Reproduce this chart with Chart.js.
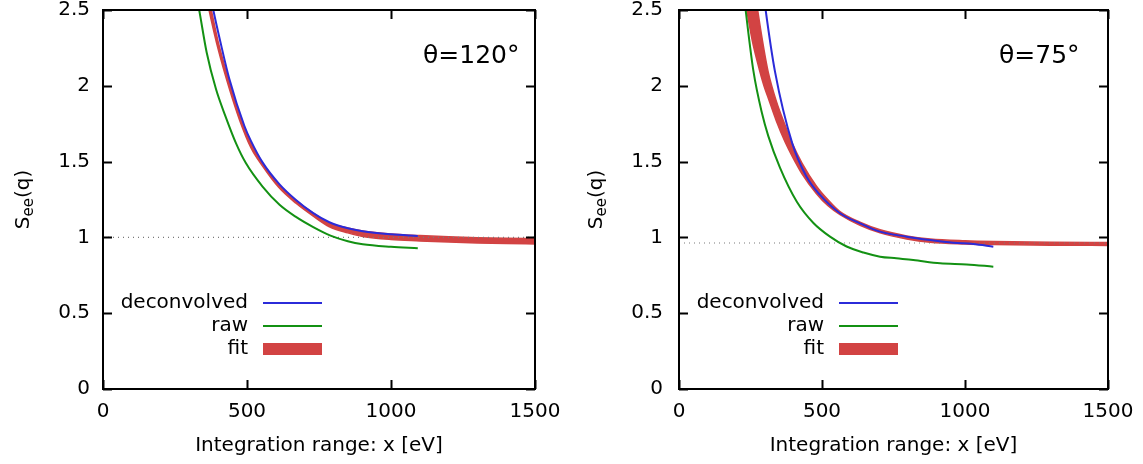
<!DOCTYPE html>
<html>
<head>
<meta charset="utf-8">
<script src="https://cdn.jsdelivr.net/npm/chart.js@4.4.0/dist/chart.umd.min.js"></script>
<style>
  body { margin: 0; background: #fff; }
  #wrap { position: relative; width: 1143px; height: 464px; }
  #c120 { position: absolute; left: 0; top: 0; }
  #c75 { position: absolute; left: 576px; top: 0; }
</style>
</head>
<body>
<div id="wrap">
  <canvas id="c120" width="576" height="464"></canvas>
  <canvas id="c75" width="567" height="464"></canvas>
</div>
<script>
const xTicks = [0, 500, 1000, 1500];
const yTicks = [0, 0.5, 1, 1.5, 2, 2.5];
const legendLabels = ['deconvolved', 'raw', 'fit'];

// theta = 120 deg
const dec120X = [370, 383, 410, 438, 491, 514, 554, 613, 670, 730, 786, 850, 902, 1000, 1093];
const dec120Y = [2.63, 2.5, 2.27, 2.05, 1.735, 1.635, 1.495, 1.35, 1.247, 1.16, 1.10, 1.06, 1.04, 1.02, 1.009];
const raw120X = [322, 334, 360, 392, 425, 462, 496, 554, 613, 670, 730, 790, 850, 902, 1000, 1093];
const raw120Y = [2.62, 2.5, 2.22, 1.98, 1.80, 1.62, 1.49, 1.335, 1.215, 1.135, 1.068, 1.012, 0.975, 0.955, 0.938, 0.928];
const fit120X = [355, 375, 400, 438, 475, 514, 554, 610, 670, 730, 786, 850, 902, 1000, 1100, 1200, 1300, 1400, 1500];
const fit120Lo = [2.62, 2.44, 2.24, 1.985, 1.77, 1.59, 1.47, 1.33, 1.225, 1.14, 1.07, 1.03, 1.006, 0.986, 0.977, 0.969, 0.963, 0.959, 0.957];
const fit120Hi = [2.69, 2.51, 2.29, 2.03, 1.80, 1.625, 1.49, 1.348, 1.245, 1.16, 1.095, 1.062, 1.042, 1.022, 1.012, 1.004, 0.998, 0.994, 0.992];
const ref120 = 1.0;

// theta = 75 deg
const dec75X = [290, 303, 336, 396, 446, 493, 563, 633, 703, 796, 878, 959, 1029, 1099];
const dec75Y = [2.7, 2.5, 2.09, 1.62, 1.40, 1.28, 1.159, 1.093, 1.038, 1.005, 0.983, 0.965, 0.956, 0.939];
const raw75X = [222, 233, 260, 290, 312, 353, 412, 470, 528, 586, 645, 703, 760, 819, 913, 1006, 1099];
const raw75Y = [2.68, 2.5, 2.1, 1.82, 1.67, 1.46, 1.235, 1.095, 1.005, 0.94, 0.90, 0.873, 0.862, 0.851, 0.829, 0.822, 0.807];
const fit75X = [222, 237, 256, 275, 297, 312, 340, 371, 396, 430, 480, 520, 563, 633, 703, 796, 878, 1000, 1100, 1300, 1500];
const fit75Lo = [2.68, 2.5, 2.3, 2.15, 2.0, 1.92, 1.77, 1.63, 1.535, 1.42, 1.29, 1.21, 1.15, 1.08, 1.03, 0.99, 0.968, 0.957, 0.953, 0.949, 0.947];
const fit75Hi = [3.6, 3.1, 2.75, 2.5, 2.24, 2.09, 1.9, 1.74, 1.62, 1.49, 1.34, 1.25, 1.17, 1.10, 1.05, 1.01, 0.99, 0.978, 0.973, 0.968, 0.966];
const ref75 = 0.963;

const BLUE = '#2b2bd9';
const GREEN = '#139113';
const RED = '#d24343';
const FONT = '"DejaVu Sans", sans-serif';

function pts(xs, ys) {
  return xs.map((x, i) => ({ x: x, y: ys[i] }));
}

// gnuplot-like frame, inward ticks, labels and key
const frame = {
  id: 'frame',
  afterDatasetsDraw(chart, args, o) {
    const { ctx, chartArea: a, scales: { x, y } } = chart;
    ctx.save();
    ctx.strokeStyle = '#000';
    ctx.lineWidth = 2;
    ctx.beginPath();
    xTicks.forEach(v => {
      const px = Math.round(x.getPixelForValue(v)) + 0.5;
      ctx.moveTo(px, a.bottom); ctx.lineTo(px, a.bottom - 9);
      ctx.moveTo(px, a.top); ctx.lineTo(px, a.top + 9);
    });
    yTicks.forEach(v => {
      const py = Math.round(y.getPixelForValue(v)) + 0.5;
      ctx.moveTo(a.left, py); ctx.lineTo(a.left + 9, py);
      ctx.moveTo(a.right, py); ctx.lineTo(a.right - 9, py);
    });
    ctx.stroke();
    ctx.strokeRect(a.left, a.top, a.right - a.left, a.bottom - a.top);

    ctx.fillStyle = '#000';
    // angle label
    ctx.font = '25px ' + FONT;
    ctx.textAlign = 'left';
    ctx.textBaseline = 'middle';
    ctx.fillText(o.theta, 423, 56);

    // key
    ctx.font = '20px ' + FONT;
    ctx.textAlign = 'right';
    const rows = [303, 326, 349];
    const cols = [BLUE, GREEN, RED];
    legendLabels.forEach((t, i) => {
      ctx.fillStyle = '#000';
      ctx.fillText(t, 248, rows[i]);
      if (i < 2) {
        ctx.strokeStyle = cols[i];
        ctx.lineWidth = 2;
        ctx.beginPath();
        ctx.moveTo(263, rows[i]); ctx.lineTo(322, rows[i]);
        ctx.stroke();
      } else {
        ctx.fillStyle = cols[i];
        ctx.fillRect(263, rows[i] - 6, 59, 12);
      }
    });

    // x title
    ctx.fillStyle = '#000';
    ctx.textAlign = 'center';
    ctx.fillText('Integration range: x [eV]', (a.left + a.right) / 2, 446);

    // y title with subscript
    ctx.translate(o.titleX, (a.top + a.bottom) / 2);
    ctx.rotate(-Math.PI / 2);
    ctx.textAlign = 'left';
    ctx.textBaseline = 'alphabetic';
    const big = '20px ' + FONT, small = '15px ' + FONT;
    ctx.font = big;
    const wS = ctx.measureText('S').width, wQ = ctx.measureText('(q)').width;
    ctx.font = small;
    const wE = ctx.measureText('ee').width;
    let x0 = -(wS + wE + wQ) / 2;
    ctx.font = big; ctx.fillText('S', x0, 7);
    ctx.font = small; ctx.fillText('ee', x0 + wS, 11);
    ctx.font = big; ctx.fillText('(q)', x0 + wS + wE, 7);
    ctx.restore();
  }
};

function makeChart(id, dec, raw, fit, ref, cfg) {
  const line = { pointRadius: 0, fill: false, cubicInterpolationMode: 'monotone' };
  new Chart(document.getElementById(id), {
    type: 'line',
    data: {
      datasets: [
        Object.assign({ data: pts(fit[0], fit[1]), borderColor: RED, borderWidth: 1.5, order: 5 }, line),
        Object.assign({}, line, { data: pts(fit[0], fit[2]), borderColor: RED, borderWidth: 1.5, fill: '-1', backgroundColor: RED, order: 4 }),
        { data: [{ x: 0, y: ref }, { x: 1500, y: ref }], borderColor: '#7a7a7a', borderWidth: 1.2, borderDash: [1, 4], pointRadius: 0, order: 3 },
        Object.assign({ data: pts(raw[0], raw[1]), borderColor: GREEN, borderWidth: 2, order: 1 }, line),
        Object.assign({ data: pts(dec[0], dec[1]), borderColor: BLUE, borderWidth: 2, order: 0 }, line)
      ]
    },
    options: {
      responsive: false,
      animation: false,
      layout: { padding: { top: 10, right: cfg.padRight, bottom: 0, left: 0 } },
      plugins: {
        legend: { display: false },
        tooltip: { enabled: false },
        frame: { theta: cfg.theta, titleX: cfg.titleX }
      },
      scales: {
        x: {
          type: 'linear', min: 0, max: 1500,
          grid: { display: false, drawTicks: false },
          border: { display: false },
          afterFit: s => { s.height = 75; s.paddingLeft = 0; s.paddingRight = 0; },
          afterBuildTicks: s => { s.ticks = xTicks.map(v => ({ value: v })); },
          ticks: { color: '#000', font: { family: FONT, size: 20 }, padding: 11, maxRotation: 0, callback: v => String(v) }
        },
        y: {
          type: 'linear', min: 0, max: 2.5,
          grid: { display: false, drawTicks: false },
          border: { display: false },
          afterFit: s => { s.width = 103; s.paddingTop = 0; s.paddingBottom = 0; },
          afterBuildTicks: s => { s.ticks = yTicks.map(v => ({ value: v })); },
          ticks: { color: '#000', font: { family: FONT, size: 20 }, padding: cfg.tickPad, callback: v => String(v) }
        }
      }
    },
    plugins: [frame]
  });
}

makeChart('c120', [dec120X, dec120Y], [raw120X, raw120Y], [fit120X, fit120Lo, fit120Hi], ref120,
  { theta: 'θ=120°', padRight: 41, titleX: 22, tickPad: 13 });
makeChart('c75', [dec75X, dec75Y], [raw75X, raw75Y], [fit75X, fit75Lo, fit75Hi], ref75,
  { theta: 'θ=75°', padRight: 35, titleX: 19, tickPad: 16 });
</script>
</body>
</html>
